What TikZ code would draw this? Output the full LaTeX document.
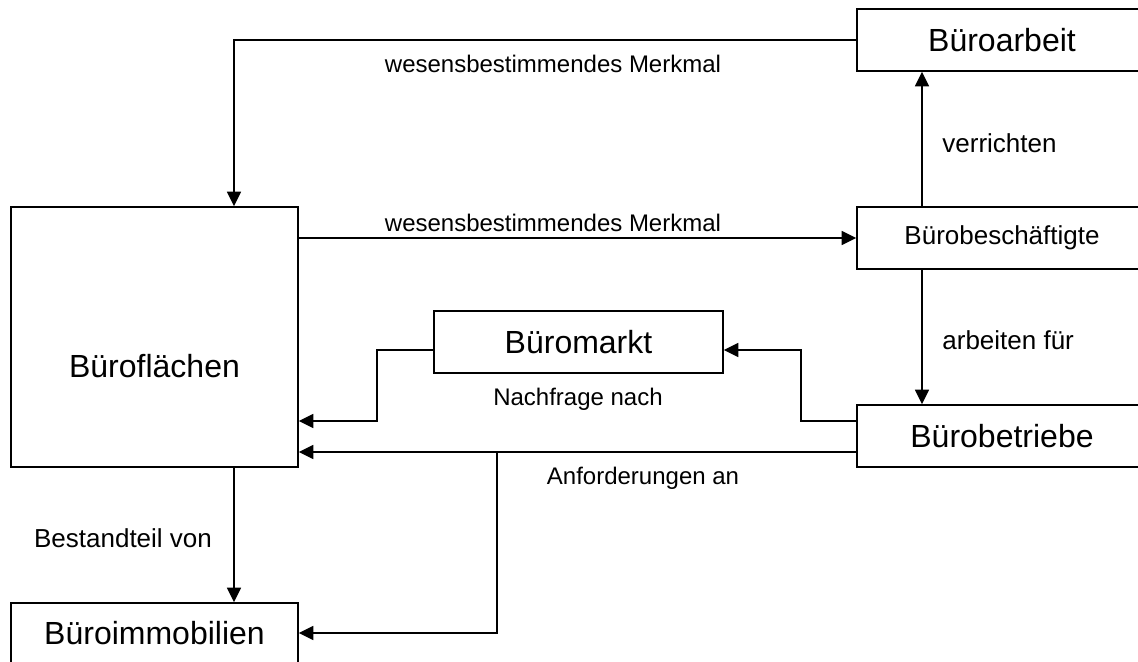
\documentclass[tikz,border=0pt]{standalone}
\usepackage{fontspec}
\setmainfont{Liberation Sans}
\usetikzlibrary{positioning}
\usetikzlibrary{arrows.meta}

\tikzset{
	box/.style={draw, line width=0.8pt, inner sep=0pt},
	arr/.style={-{Triangle[length=7.3pt,width=7pt]}, line width=0.8pt},
	big/.style={font=\fontsize{16}{19}\selectfont},
	mid/.style={font=\fontsize{13}{16}\selectfont, inner sep=0pt},
	small/.style={font=\fontsize{12}{14}\selectfont, inner sep=0pt}
}

\begin{document}
\begin{tikzpicture}[x=0.5pt,y=-0.5pt]
	%% picture frame
	\useasboundingbox (0,0) rectangle (1138,662);

	\def\bw{145pt} % box width
	\def\bh{31pt} % box height

	% boxes
	\node[box, big, minimum width=\bw, minimum height=\bh] (arbeit) at (1002,40) {Büroarbeit};
	\node[box, mid, minimum width=\bw, minimum height=\bh] (beschaeftigte) at (1002,238) {Bürobeschäftigte};
	\node[box, big, minimum width=\bw, minimum height=\bh] (betriebe) at (1002,436) {Bürobetriebe};
	\node[box, big, minimum width=144.5pt, minimum height=\bh] (markt) at (578.5,342) {Büromarkt};
	\node[box, minimum width=143.5pt, minimum height=130pt,
		label={[big, yshift=-14.5pt]center:Büroflächen}] (flaechen) at (154.5,337) {};
	\node[box, big, minimum width=143.5pt, minimum height=30pt] (immobilien) at (154.5,633) {Büroimmobilien};

	% lanes
	\coordinate (colL) at (234,0);
	\coordinate (colN) at (377,0);
	\coordinate (colA) at (497,0);
	\coordinate (colM) at (801,0);
	\coordinate (colR) at (922,0);
	\coordinate (rowM) at (0,350);
	\coordinate (rowN) at (0,421);
	\coordinate (rowA) at (0,452);

	% connectors
	\draw[arr] (arbeit.west) -| (colL |- flaechen.north);
	\draw[arr] (flaechen.east |- beschaeftigte.west) -- (beschaeftigte.west);
	\draw[arr] (colR |- beschaeftigte.north) -- (colR |- arbeit.south);
	\draw[arr] (colR |- beschaeftigte.south) -- (colR |- betriebe.north);
	\draw[arr] (betriebe.west |- rowN) -| (colM |- rowM) -- (markt.east |- rowM);
	\draw[arr] (markt.west |- rowM) -| (colN |- rowN) -- (flaechen.east |- rowN);
	\draw[arr] (betriebe.west |- rowA) -- (flaechen.east |- rowA);
	\draw[arr] (colA |- rowA) |- (immobilien.east);
	\draw[arr] (colL |- flaechen.south) -- (colL |- immobilien.north);

	% texts
	\node[small] (merkmalOben) at (553,64) {wesensbestimmendes Merkmal};
	\node[small] (merkmalMitte) at (553,222.5) {wesensbestimmendes Merkmal};
	\node[mid, anchor=west] (verrichten) at (942,143.5) {verrichten};
	\node[mid, anchor=west] (arbeitenfuer) at (942,340.5) {arbeiten für};
	\node[small] (nachfrage) at (578,399) {Nachfrage nach};
	\node[small] (anforderungen) at (643,478) {Anforderungen an};
	\node[mid] (bestandteil) at (123,538.5) {Bestandteil von};
\end{tikzpicture}
\end{document}
